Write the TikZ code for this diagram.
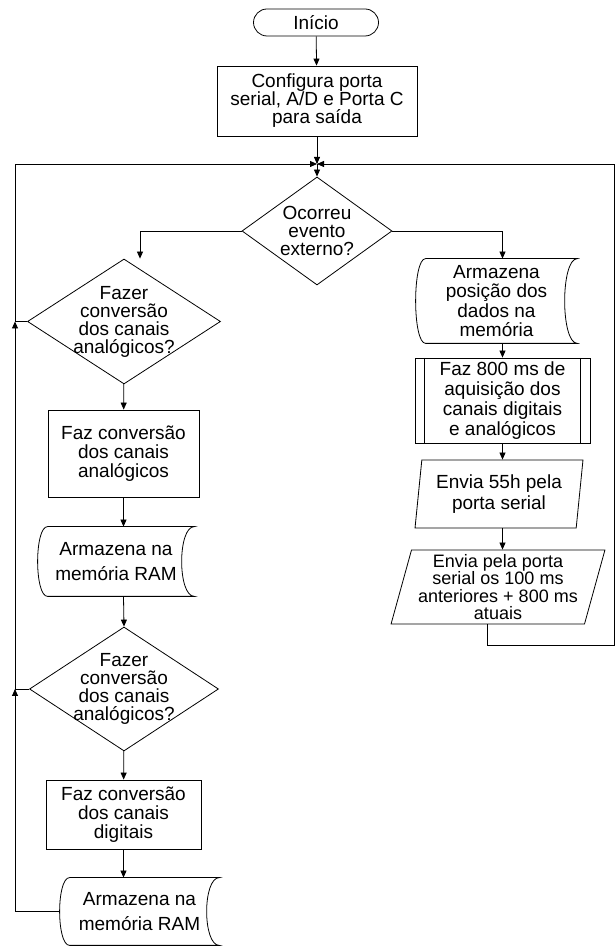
\documentclass[tikz,border=0pt]{standalone}
\usepackage{fontspec}
\setmainfont{Liberation Sans}
\usetikzlibrary{arrows.meta,shapes.geometric}

% contorno de "dados armazenados" em volta de um no
\newcommand{\armazem}[1]{%
  \draw ([xshift=10pt]#1.north west) -- (#1.north east)
    .. controls ([xshift=-17pt]#1.north east) and ([xshift=-17pt]#1.south east) .. (#1.south east)
    -- ([xshift=10pt]#1.south west)
    .. controls ([xshift=-3.3pt]#1.south west) and ([xshift=-3.3pt]#1.north west) .. ([xshift=10pt]#1.north west);}

\begin{document}
\begin{tikzpicture}[x=1pt, y=1pt, line width=0.8pt,
    font=\fontsize{19}{19}\selectfont,
    inicio/.style={rectangle, rounded corners=13.5pt, draw, inner sep=0pt,
      minimum width=125pt, minimum height=27pt},
    caixa/.style={rectangle, draw, align=center, inner sep=0pt},
    decisao/.style={diamond, draw, inner sep=0pt},
    dado/.style={trapezium, trapezium stretches=true, draw, align=center,
      inner sep=0pt},
    memo/.style={rectangle, align=center, inner sep=0pt},
    subrot/.style={rectangle, draw, align=center, inner sep=0pt,
      path picture={\draw
        ([xshift=9pt]path picture bounding box.north west) --
        ([xshift=9pt]path picture bounding box.south west)
        ([xshift=-10pt]path picture bounding box.north east) --
        ([xshift=-10pt]path picture bounding box.south east);}},
    every label/.style={align=center, font=\fontsize{19}{18}\selectfont},
    seta/.style={-{Triangle[length=7pt,width=6pt]}}]
  \useasboundingbox (0,0) rectangle (615,947);

  \node[inicio] (inicio) at (316,924.5) {Início};
  \node[caixa, minimum width=200pt, minimum height=70pt,
    font=\fontsize{19}{18}\selectfont] (config) at (317,846)
    {Configura porta\\serial, A/D e Porta C\\para saída};
  \coordinate (junc) at (317,783);
  \node[decisao, minimum width=150pt, minimum height=108pt,
    label={center:Ocorreu\\evento\\externo?}] (evento) at (317,716) {};

  % ramo da esquerda
  \node[decisao, minimum width=193pt, minimum height=125pt,
    label={center:Fazer\\conversão\\dos canais\\analógicos?}] (q1) at (124,625.5) {};
  \node[caixa, minimum width=151pt, minimum height=87pt] (faz1) at (123.5,493.5)
    {Faz conversão\\dos canais\\analógicos};
  \node[memo, minimum width=156pt, minimum height=69pt,
    font=\fontsize{19}{25}\selectfont] (arm1) at (116,385.5)
    {Armazena na\\memória RAM};
  \armazem{arm1}
  \node[decisao, minimum width=189pt, minimum height=124pt,
    label={center:Fazer\\conversão\\dos canais\\analógicos?}] (q2) at (124,258) {};
  \node[caixa, minimum width=155pt, minimum height=69pt] (faz2) at (123.5,132.5)
    {Faz conversão\\dos canais\\digitais};
  \node[memo, minimum width=159pt, minimum height=67pt,
    font=\fontsize{19}{25}\selectfont] (arm2) at (139.5,35.5)
    {Armazena na\\memória RAM};
  \armazem{arm2}

  % ramo da direita
  \node[memo, minimum width=161pt, minimum height=84pt,
    font=\fontsize{19}{19.5}\selectfont] (arm3) at (496.5,646)
    {Armazena\\posição dos\\dados na\\memória};
  \armazem{arm3}
  \node[subrot, minimum width=175pt, minimum height=85pt,
    font=\fontsize{19}{20}\selectfont] (aquis) at (502.5,546.5)
    {Faz 800 ms de\\aquisição dos\\canais digitais\\e analógicos};
  \node[dado, trapezium left angle=82, trapezium right angle=98,
    minimum width=168pt, minimum height=68pt,
    font=\fontsize{19}{21.7}\selectfont] (envia1) at (499,453)
    {Envia 55h pela\\porta serial};
  \node[dado, trapezium left angle=74, trapezium right angle=106,
    minimum width=214pt, minimum height=74pt,
    font=\fontsize{18}{17.5}\selectfont] (envia2) at (498,360)
    {Envia pela porta\\serial os 100 ms\\anteriores + 800 ms\\atuais};

  \coordinate (laco) at (15,783);
  \coordinate (retorno) at (614,783);

  \draw[seta] (inicio) -- (config);
  \draw[seta] (config) -- (junc);
  \draw[seta] (junc) -- (evento.north);
  \draw[seta] (evento.west) -| ([xshift=16pt]q1.north);
  \draw[seta] (evento.east) -| (arm3.north -| aquis);
  \draw[seta] (q1) -- (faz1);
  \draw[seta] (faz1.south) -- (faz1.south |- arm1.north);
  \draw[seta] (arm1.south -| faz1) -- (q2.north);
  \draw[seta] (q2) -- (faz2);
  \draw[seta] (faz2.south) -- (faz2.south |- arm2.north);
  \draw[seta] (arm3.south -| aquis) -- (aquis.north);
  \draw[seta] (aquis.south) -- (aquis.south |- envia1.north);
  \draw[seta] (envia1.south -| aquis) -- (aquis.south |- envia2.north);

  % lacos de retorno
  \draw[seta] (arm2.west) -| (laco |- q2.west);
  \draw (q2.west) -- (laco |- q2.west);
  \draw[seta] (laco |- q2.west) -- (laco |- q1.west);
  \draw (q1.west) -- (laco |- q1.west);
  \draw[seta] (laco |- q1.west) -- (laco) -- (junc);
  \draw[seta] (envia2.bottom side) -- ++(0,-21) -| (retorno) -- (junc);
\end{tikzpicture}
\end{document}
